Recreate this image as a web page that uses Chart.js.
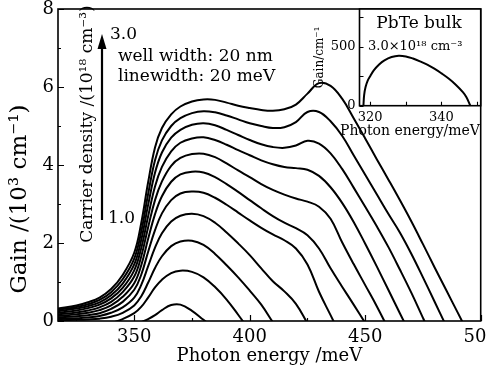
<!DOCTYPE html>
<html><head><meta charset="utf-8">
<script src="https://cdn.jsdelivr.net/npm/chart.js@4/dist/chart.umd.min.js"></script>
<style>
html,body{margin:0;padding:0;background:#fff;}
#wrap{position:relative;width:487px;height:371px;overflow:hidden;}
#main{position:absolute;left:0;top:0;width:487px;height:371px;}
#inset{position:absolute;left:300px;top:0;width:187px;height:140px;}
</style></head><body>
<div id="wrap"><canvas id="main" width="487" height="371"></canvas><canvas id="inset" width="187" height="140"></canvas></div>
<script>
// ---------- DATA ----------
const energy = [317,325,330,335,340,345,350,353,356,359,362,366,370,375,380,385,390,395,400,405,410,415,420,425,430,435,440,445,450,455,460,465,470,475,480,485,490,495,500];
const densities = ['1.0','1.2','1.4','1.6','1.8','2.0','2.2','2.4','2.6','2.8','3.0'];
const gain_n10 = [null,null,null,null,null,null,-0.10,-0.03,0.05,0.15,0.28,0.41,0.42,0.26,0.03,-0.20,null,null,null,null,null,null,null,null,null,null,null,null,null,null,null,null,null,null,null,null,null,null,null];
const gain_n12 = [null,null,null,null,-0.05,0.05,0.20,0.36,0.60,0.86,1.06,1.23,1.29,1.26,1.12,0.87,0.55,0.16,-0.25,null,null,null,null,null,null,null,null,null,null,null,null,null,null,null,null,null,null,null,null];
const gain_n14 = [0.02,0.03,0.04,0.06,0.11,0.21,0.40,0.63,0.98,1.36,1.66,1.92,2.04,2.06,1.95,1.72,1.43,1.12,0.78,0.42,-0.03,null,null,null,null,null,null,null,null,null,null,null,null,null,null,null,null,null,null];
const gain_n16 = [0.05,0.07,0.09,0.13,0.21,0.35,0.60,0.92,1.40,1.88,2.25,2.55,2.70,2.75,2.69,2.52,2.27,1.99,1.69,1.35,1.02,0.76,0.44,-0.06,null,null,null,null,null,null,null,null,null,null,null,null,null,null,null];
const gain_n18 = [0.09,0.12,0.15,0.20,0.31,0.49,0.80,1.18,1.77,2.33,2.76,3.10,3.27,3.32,3.29,3.16,2.98,2.78,2.58,2.39,2.22,2.07,1.86,1.45,0.75,0.15,-0.45,null,null,null,null,null,null,null,null,null,null,null,null];
const gain_n20 = [0.13,0.17,0.21,0.28,0.40,0.62,0.97,1.42,2.10,2.74,3.20,3.57,3.76,3.83,3.81,3.69,3.51,3.31,3.10,2.89,2.69,2.52,2.38,2.20,1.86,1.35,0.88,0.42,-0.05,null,null,null,null,null,null,null,null,null,null];
const gain_n22 = [0.17,0.22,0.27,0.35,0.49,0.74,1.14,1.65,2.40,3.10,3.58,3.98,4.18,4.28,4.29,4.20,4.04,3.86,3.69,3.51,3.36,3.24,3.14,3.06,2.93,2.62,2.02,1.46,0.92,0.38,-0.20,null,null,null,null,null,null,null,null];
const gain_n24 = [0.21,0.27,0.33,0.42,0.58,0.85,1.30,1.86,2.68,3.45,3.95,4.35,4.57,4.68,4.71,4.64,4.52,4.38,4.25,4.12,4.02,3.95,3.92,3.88,3.72,3.43,3.03,2.54,1.98,1.40,0.80,0.20,-0.40,null,null,null,null,null,null];
const gain_n26 = [0.25,0.32,0.38,0.48,0.66,0.96,1.45,2.07,2.97,3.80,4.32,4.70,4.90,5.03,5.07,5.02,4.90,4.77,4.64,4.53,4.46,4.44,4.50,4.62,4.55,4.30,3.90,3.42,2.93,2.43,1.90,1.32,0.72,0.08,-0.55,null,null,null,null];
const gain_n28 = [0.29,0.36,0.43,0.54,0.74,1.07,1.60,2.28,3.25,4.12,4.63,5.00,5.20,5.33,5.38,5.35,5.27,5.17,5.07,5.00,4.95,4.97,5.10,5.36,5.36,5.12,4.75,4.25,3.75,3.25,2.75,2.27,1.72,1.12,0.50,-0.12,null,null,null];
const gain_n30 = [0.32,0.40,0.48,0.60,0.82,1.18,1.75,2.50,3.55,4.45,4.95,5.30,5.50,5.63,5.68,5.67,5.60,5.52,5.46,5.41,5.39,5.43,5.55,5.83,6.10,6.03,5.70,5.20,4.68,4.15,3.63,3.10,2.55,1.97,1.38,0.80,0.22,-0.36,null];
const gainSeries = [gain_n10,gain_n12,gain_n14,gain_n16,gain_n18,gain_n20,gain_n22,gain_n24,gain_n26,gain_n28,gain_n30];

const xTickLabels = [350,400,450,500];
const yTickLabels = [0,2,4,6,8];

// inset: PbTe bulk, 3.0e18 cm^-3
const insetEnergy = [318.1,318.3,318.7,319.3,320,321,322.5,324,326,328,330,332,334,336,338,340,342,344,346,347,348.1];
const insetGain   = [0,90,158,212,250,300,350,385,413,424,418,400,376,348,314,274,230,178,115,72,0];
const insetXTickLabels = [320,340];
const insetYTickLabels = [0,500];

// ---------- RENDER ----------
const FONT = '"DejaVu Serif", "Liberation Serif", serif';

function noPad(s) { s.paddingLeft = 0; s.paddingRight = 0; s.paddingTop = 0; s.paddingBottom = 0; }

function drawFrameTicks(chart, cfg) {
  const {ctx, chartArea: a, scales} = chart;
  ctx.save();
  ctx.strokeStyle = '#000';
  ctx.lineWidth = cfg.tickW;
  ctx.beginPath();
  scales.x.ticks.forEach(t => {
    const p = Math.round(scales.x.getPixelForValue(t.value)) + 0.5;
    const L = cfg.xLabels.includes(t.value) ? cfg.major : cfg.minor;
    ctx.moveTo(p, a.bottom); ctx.lineTo(p, a.bottom - L);
  });
  scales.y.ticks.forEach(t => {
    const p = Math.round(scales.y.getPixelForValue(t.value)) + 0.5;
    const L = cfg.yLabels.includes(t.value) ? cfg.major : cfg.minor;
    ctx.moveTo(a.left, p); ctx.lineTo(a.left + L, p);
  });
  ctx.stroke();
  ctx.lineWidth = cfg.frameW;
  ctx.strokeRect(a.left, a.top, a.right - a.left, a.bottom - a.top);
  ctx.restore();
}

const mainPlugin = {
  id: 'mainDecor',
  afterDraw(chart) {
    drawFrameTicks(chart, {tickW: 1.2, frameW: 1.6, major: 6, minor: 3, xLabels: xTickLabels, yLabels: yTickLabels});
    const ctx = chart.ctx;
    ctx.save();
    ctx.fillStyle = '#000';
    ctx.textBaseline = 'middle';
    // y axis title
    ctx.save();
    ctx.translate(20, 199); ctx.rotate(-Math.PI / 2);
    ctx.textAlign = 'center';
    ctx.font = '23px ' + FONT;
    ctx.fillText('Gain /(10³ cm⁻¹)', 0, 0);
    ctx.restore();
    // carrier density label
    ctx.save();
    ctx.translate(88, 124); ctx.rotate(-Math.PI / 2);
    ctx.textAlign = 'center';
    ctx.font = '17px ' + FONT;
    ctx.fillText('Carrier density /(10¹⁸ cm⁻³)', 0, 0);
    ctx.restore();
    // arrow
    ctx.strokeStyle = '#000';
    ctx.lineWidth = 2.2;
    ctx.beginPath(); ctx.moveTo(102, 220); ctx.lineTo(102, 46); ctx.stroke();
    ctx.beginPath(); ctx.moveTo(102, 34); ctx.lineTo(97.5, 49); ctx.lineTo(106.5, 49); ctx.closePath(); ctx.fill();
    ctx.textAlign = 'left';
    ctx.font = '17px ' + FONT;
    ctx.fillText('3.0', 110, 35);
    ctx.fillText('1.0', 108, 219);
    ctx.fillText('well width: 20 nm', 118, 57);
    ctx.fillText('linewidth: 20 meV', 118, 77);
    ctx.restore();
  }
};

const datasets = gainSeries.map((arr, i) => ({
  label: densities[i],
  data: energy.map((e, k) => ({x: e, y: arr[k]})).filter(p => p.y !== null),
  borderColor: '#000',
  borderWidth: 2,
  pointRadius: 0,
  fill: false,
  tension: 0.4,
  clip: 0
}));

new Chart(document.getElementById('main'), {
  type: 'line',
  data: {datasets},
  options: {
    responsive: false, animation: false,
    layout: {autoPadding: false, padding: {left: 0, top: 9, right: 6.3, bottom: 0}},
    plugins: {legend: {display: false}, tooltip: {enabled: false}},
    scales: {
      x: {
        type: 'linear', min: 317, max: 500,
        grid: {display: false, drawTicks: false}, border: {display: false},
        ticks: {stepSize: 25, includeBounds: false, autoSkip: false, maxRotation: 0, padding: 6, color: '#000',
          font: {family: FONT, size: 18},
          callback: v => xTickLabels.includes(v) ? String(v) : ''},
        title: {display: true, text: 'Photon energy /meV', color: '#000', font: {family: FONT, size: 18}, padding: {top: 0, bottom: 4}},
        afterFit: s => { s.height = 50; noPad(s); }
      },
      y: {
        type: 'linear', min: 0, max: 8,
        grid: {display: false, drawTicks: false}, border: {display: false},
        ticks: {stepSize: 1, includeBounds: false, autoSkip: false, padding: 4, color: '#000',
          font: {family: FONT, size: 18},
          callback: v => yTickLabels.includes(v) ? String(v) : ''},
        afterFit: s => { s.width = 58; noPad(s); }
      }
    }
  },
  plugins: [mainPlugin]
});

const insetPlugin = {
  id: 'insetDecor',
  beforeDatasetsDraw(chart) {
    const {ctx, chartArea: a} = chart;
    ctx.save(); ctx.fillStyle = '#fff';
    ctx.fillRect(a.left, a.top, a.right - a.left, a.bottom - a.top);
    ctx.restore();
  },
  afterDraw(chart) {
    drawFrameTicks(chart, {tickW: 1.1, frameW: 1.6, major: 4, minor: 4, xLabels: insetXTickLabels, yLabels: insetYTickLabels});
    const ctx = chart.ctx;
    ctx.save();
    ctx.fillStyle = '#000';
    ctx.textBaseline = 'middle';
    ctx.textAlign = 'center';
    ctx.font = '17px ' + FONT;
    ctx.fillText('PbTe bulk', 119, 24);
    ctx.font = '14px ' + FONT;
    ctx.fillText('Photon energy/meV', 110, 131);
    ctx.textAlign = 'left';
    ctx.font = '13px ' + FONT;
    ctx.fillText('3.0×10¹⁸ cm⁻³', 68, 47);
    ctx.restore();
  }
};

new Chart(document.getElementById('inset'), {
  type: 'line',
  data: {datasets: [{
    data: insetEnergy.map((e, k) => ({x: e, y: insetGain[k]})),
    borderColor: '#000', borderWidth: 2, pointRadius: 0, fill: false,
    tension: 0.4, clip: 0
  }]},
  options: {
    responsive: false, animation: false,
    layout: {autoPadding: false, padding: {left: 0, top: 9, right: 6.3, bottom: 0}},
    plugins: {legend: {display: false}, tooltip: {enabled: false}},
    scales: {
      x: {
        type: 'linear', min: 317, max: 351,
        grid: {display: false, drawTicks: false}, border: {display: false},
        ticks: {stepSize: 10, includeBounds: false, autoSkip: false, maxRotation: 0, padding: 4, color: '#000',
          font: {family: FONT, size: 13},
          callback: v => insetXTickLabels.includes(v) ? String(v) : ''},
        afterFit: s => { s.height = 34.3; noPad(s); }
      },
      y: {
        type: 'linear', min: 0, max: 820,
        grid: {display: false, drawTicks: false}, border: {display: false},
        ticks: {stepSize: 250, includeBounds: false, autoSkip: false, padding: 4, color: '#000',
          font: {family: FONT, size: 13},
          callback: v => insetYTickLabels.includes(v) ? String(v) : ''},
        title: {display: true, text: 'Gain/cm⁻¹', color: '#000', font: {family: FONT, size: 12}, padding: {top: 13, bottom: 0}},
        afterFit: s => { s.width = 59.5; noPad(s); }
      }
    }
  },
  plugins: [insetPlugin]
});
</script>
</body></html>
